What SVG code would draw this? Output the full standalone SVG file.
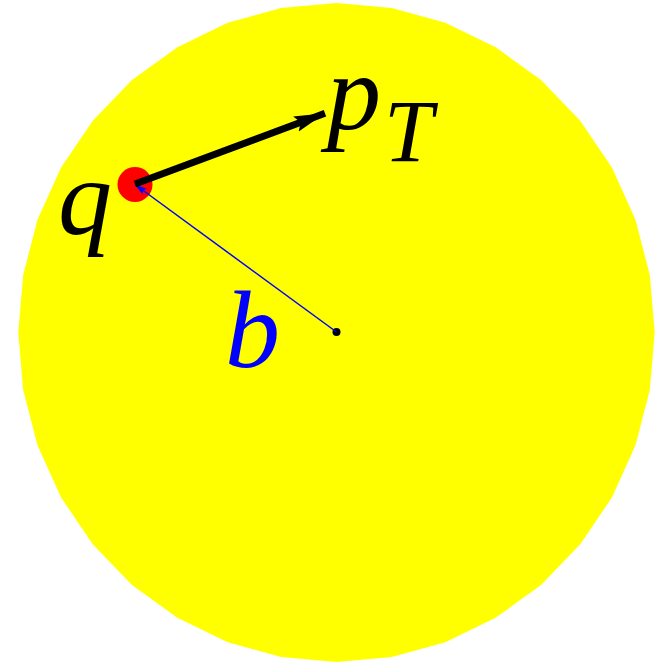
<svg xmlns="http://www.w3.org/2000/svg" width="657" height="663" viewBox="0 0 657 663">
<style>
.lbl{font-family:"Liberation Serif","Times New Roman",serif;font-style:italic}
</style>
<defs>
<marker id="headBlack" markerUnits="userSpaceOnUse" markerWidth="34" markerHeight="20" viewBox="0 -10 34 20" refX="31" refY="0" orient="auto">
<path d="M0,-8 L31,0 L0,8 L5,0 Z" fill="#000"/>
</marker>
<marker id="headBlue" markerUnits="userSpaceOnUse" markerWidth="14" markerHeight="10" viewBox="0 -5 14 10" refX="12" refY="0" orient="auto">
<path d="M0,-3.5 L12,0 L0,3.5 L2,0 Z" fill="#0000ff"/>
</marker>
</defs>
<g id="disk">
<polygon fill="#ffff00" points="336.5,3 391.76,8.01 445.33,22.87 495.6,47.14 541.04,80.09 580.25,120.7 612.07,167.75 635.51,219.8 649.87,275.28 654.7,332.5 649.87,389.72 635.51,445.2 612.07,497.25 580.25,544.3 541.04,584.91 495.6,617.86 445.33,642.13 391.76,656.99 336.5,662 281.24,656.99 227.67,642.13 177.4,617.86 131.96,584.91 92.75,544.3 60.93,497.25 37.49,445.2 23.13,389.72 18.3,332.5 23.13,275.28 37.49,219.8 60.93,167.75 92.75,120.7 131.96,80.09 177.4,47.14 227.67,22.87 281.24,8.01"/>
</g>
<g id="q-node">
<circle cx="135" cy="184.5" r="17.5" fill="#ff0000"/>
<text class="lbl" x="58" y="234" font-size="108" fill="#000">q</text>
</g>
<g id="center-node">
<circle cx="336.5" cy="332" r="4" fill="#000"/>
<text class="lbl" x="225" y="367" font-size="110" fill="#0000ff">b</text>
</g>
<g id="pT-node">
<text class="lbl" x="327" y="129" font-size="108" fill="#000">p</text>
<text class="lbl" x="384" y="161" font-size="88" fill="#000">T</text>
</g>
<g id="connectors">
<line x1="336.5" y1="332" x2="135" y2="184.5" stroke="#0000ff" stroke-width="1.5" marker-end="url(#headBlue)"/>
<line x1="135" y1="184" x2="325" y2="113.3" stroke="#000" stroke-width="7" marker-end="url(#headBlack)"/>
</g>
</svg>
